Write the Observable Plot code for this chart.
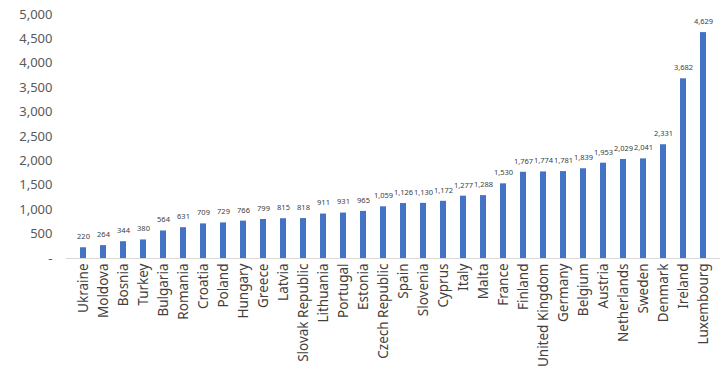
<!DOCTYPE html>
<html>
<head>
<meta charset="utf-8">
<script src="https://cdn.jsdelivr.net/npm/d3@7"></script>
<script src="https://cdn.jsdelivr.net/npm/@observablehq/plot@0.6"></script>
<style>
  body { margin: 0; background: #fff; }
  #chart svg { display: block; }
</style>
</head>
<body>
<div id="chart"></div>
<script>
const countries = ["Ukraine","Moldova","Bosnia","Turkey","Bulgaria","Romania","Croatia","Poland","Hungary","Greece","Latvia","Slovak Republic","Lithuania","Portugal","Estonia","Czech Republic","Spain","Slovenia","Cyprus","Italy","Malta","France","Finland","United Kingdom","Germany","Belgium","Austria","Netherlands","Sweden","Denmark","Ireland","Luxembourg"];
const values = [220,264,344,380,564,631,709,729,766,799,815,818,911,931,965,1059,1126,1130,1172,1277,1288,1530,1767,1774,1781,1839,1953,2029,2041,2331,3682,4629];
const yTicks = [0,500,1000,1500,2000,2500,3000,3500,4000,4500,5000];

const data = countries.map((c, i) => ({country: c, value: values[i]}));
const fmt = d3.format(",");

const chart = Plot.plot({
  width: 720,
  height: 385,
  marginTop: 14,
  marginLeft: 66,
  marginRight: 0,
  marginBottom: 127,
  style: {fontFamily: "'Noto Sans', sans-serif", background: "#fff"},
  x: {domain: countries, paddingInner: 0.7, paddingOuter: 0.47, label: null},
  y: {domain: [0, 5000], label: null},
  marks: [
    Plot.ruleY([0], {stroke: "#d9d9d9", strokeWidth: 1}),
    Plot.barY(data, {x: "country", y: "value", fill: "#4472c4"}),
    Plot.text(data, {x: "country", y: "value", text: d => fmt(d.value), dy: -11, fontSize: 7.5, fill: "#404040"}),
    Plot.axisY({ticks: yTicks, tickSize: 0, tickPadding: 14, tickFormat: d => d === 0 ? "-" : fmt(d), fontSize: 13, color: "#595959", label: null}),
    Plot.axisX({tickSize: 0, tickRotate: -90, tickPadding: 5, fontSize: 13.5, color: "#404040", label: null})
  ]
});
document.getElementById("chart").appendChild(chart);
</script>
</body>
</html>
